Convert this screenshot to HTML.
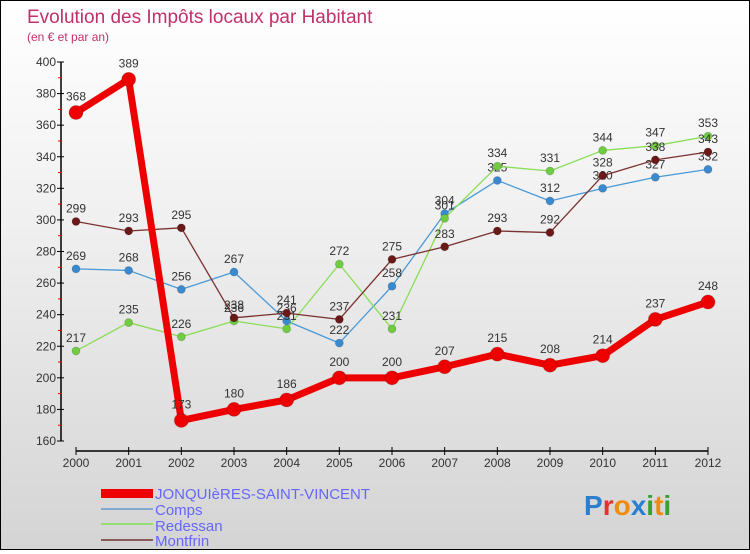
<!DOCTYPE html>
<html><head><meta charset="utf-8"><style>
body{margin:0;width:750px;height:550px;overflow:hidden}
#wrap{position:relative;width:748px;height:548px;border:1px solid #000;background:linear-gradient(#fff 0%,#f0f0f0 40%,#d4d4d4 100%);font-family:"Liberation Sans",sans-serif}
svg text{font-family:"Liberation Sans",sans-serif}
</style></head><body>
<div id="wrap">
<svg id="chart" width="748" height="548">
<text x="26" y="22" font-size="19" fill="#c0306a">Evolution des Impôts locaux par Habitant</text>
<text x="26" y="40" font-size="12" fill="#c0306a">(en € et par an)</text>
<g id="axes"></g><g id="series"></g>
<g>
<rect x="100" y="488" width="52" height="9" fill="#ee0000"/>
<text x="154" y="498" font-size="15" fill="#6666ff">JONQUIèRES-SAINT-VINCENT</text>
<rect x="100" y="507" width="52" height="2" fill="#80aad0"/>
<text x="154" y="514" font-size="15" fill="#6666ff">Comps</text>
<rect x="100" y="522" width="52" height="2" fill="#99dd77"/>
<text x="154" y="530" font-size="15" fill="#6666ff">Redessan</text>
<rect x="100" y="538" width="52" height="2" fill="#8a5a5a"/>
<text x="154" y="545" font-size="15" fill="#6666ff">Montfrin</text>
</g>
<text x="583" y="514" font-size="28" font-weight="bold"><tspan fill="#2a7fd0">P</tspan><tspan fill="#e83030">r</tspan><tspan fill="#f08a10">o</tspan><tspan fill="#2a7fd0">x</tspan><tspan fill="#38a030">i</tspan><tspan fill="#f08a10">t</tspan><tspan fill="#38a030">i</tspan></text>
</svg></div>
<script>
const years=[2000,2001,2002,2003,2004,2005,2006,2007,2008,2009,2010,2011,2012];
const yTicks=[160,180,200,220,240,260,280,300,320,340,360,380,400];
const jonquieres=[368,389,173,180,186,200,200,207,215,208,214,237,248];
const comps=[269,268,256,267,236,222,258,304,325,312,320,327,332];
const redessan=[217,235,226,236,231,272,231,301,334,331,344,347,353];
const montfrin=[299,293,295,238,241,237,275,283,293,292,328,338,343];
const NS="http://www.w3.org/2000/svg";
const xS=i=>75+i*(707-75)/12;
const yS=v=>61+(400-v)*(379/240);
function mk(t,a,p){const e=document.createElementNS(NS,t);for(const k in a)e.setAttribute(k,a[k]);p.appendChild(e);return e;}
const ax=document.getElementById('axes');
let e=mk('line',{x1:60,y1:yS(400),x2:60,y2:yS(160),stroke:'#000','stroke-width':1.5},ax);

yTicks.forEach(v=>{
 mk('line',{x1:56,y1:yS(v),x2:63,y2:yS(v),stroke:'#000'},ax);
 if(v<400)mk('line',{x1:57,y1:yS(v+10),x2:61,y2:yS(v+10),stroke:'#e00'},ax);
 const t=mk('text',{x:55,y:yS(v)+4,'font-size':12,fill:'#333','text-anchor':'end'},ax);t.textContent=v;
 
});
e=mk('line',{x1:75,y1:450,x2:707,y2:450,stroke:'#000','stroke-width':1.5},ax);

years.forEach((y,i)=>{
 mk('line',{x1:xS(i),y1:446,x2:xS(i),y2:454,stroke:'#000'},ax);
 const t=mk('text',{x:xS(i),y:466,'font-size':12,fill:'#333','text-anchor':'middle'},ax);t.textContent=y;
 
});
const sg=document.getElementById('series');
function draw(vals,name,col,w,r,dot){
 const g=mk('g',{},sg);
 
 const l=mk('polyline',{points:vals.map((v,i)=>xS(i)+','+yS(v)).join(' '),fill:'none',stroke:col,'stroke-width':w,'stroke-linejoin':'round'},g);
 
 vals.forEach((v,i)=>{
  const c=mk('circle',{cx:xS(i),cy:yS(v),r:r,fill:dot,stroke:'rgba(0,0,0,0.15)'},g);
  
  const t=mk('text',{x:xS(i),y:yS(v)-r-5,'font-size':12,fill:'#333','text-anchor':'middle'},g);t.textContent=v;
  
 });
}
draw(comps,'comps','#4a9ad8',1.3,4,'#3a8ad0');
draw(redessan,'redessan','#88dd55',1.3,4,'#70cc40');
draw(montfrin,'montfrin','#7a3030',1.3,4,'#6a1818');
draw(jonquieres,'jonquieres','#ee0000',7,7,'#ee0000');
</script></body></html>
